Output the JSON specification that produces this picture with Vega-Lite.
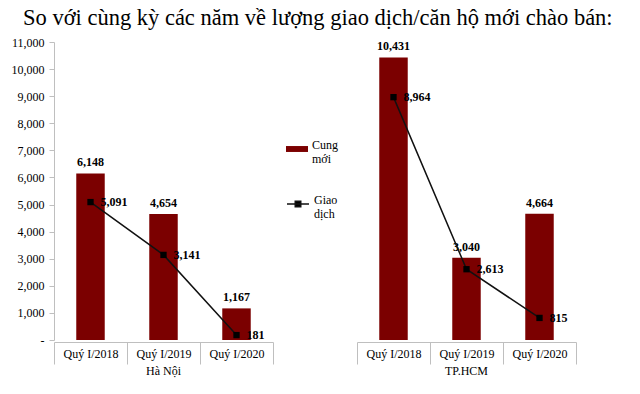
{
  "$schema": "https://vega.github.io/schema/vega-lite/v6.json",
  "padding": {"left": 11, "top": 6, "right": 5, "bottom": 5},
  "background": "white",
  "title": {
    "text": "So với cùng kỳ các năm về lượng giao dịch/căn hộ mới chào bán:",
    "anchor": "start",
    "frame": "bounds",
    "font": "Liberation Serif",
    "fontSize": 22.5,
    "fontWeight": "normal",
    "color": "#000000",
    "dx": 12,
    "offset": 7
  },
  "data": {
    "values": [
      {"city": "Hà Nội", "quarter": "Quý I/2018", "cung": 6148, "gd": 5091},
      {"city": "Hà Nội", "quarter": "Quý I/2019", "cung": 4654, "gd": 3141},
      {"city": "Hà Nội", "quarter": "Quý I/2020", "cung": 1167, "gd": 181},
      {"city": "TP.HCM", "quarter": "Quý I/2018", "cung": 10431, "gd": 8964},
      {"city": "TP.HCM", "quarter": "Quý I/2019", "cung": 3040, "gd": 2613},
      {"city": "TP.HCM", "quarter": "Quý I/2020", "cung": 4664, "gd": 815}
    ]
  },
  "facet": {
    "column": {
      "field": "city",
      "sort": ["Hà Nội", "TP.HCM"],
      "header": {
        "title": null,
        "labelOrient": "bottom",
        "labelFont": "Liberation Serif",
        "labelFontSize": 12,
        "labelColor": "#000000",
        "labelPadding": 1
      }
    }
  },
  "spacing": 84,
  "spec": {
    "width": 219,
    "height": 298,
    "encoding": {
      "x": {
        "field": "quarter",
        "type": "nominal",
        "sort": ["Quý I/2018", "Quý I/2019", "Quý I/2020"],
        "scale": {"paddingInner": 0, "paddingOuter": 0},
        "axis": {
          "title": null,
          "labelAngle": 0,
          "labelFont": "Liberation Serif",
          "labelFontSize": 12,
          "labelColor": "#000000",
          "labelPadding": -16,
          "domainColor": "#bfbfbf",
          "tickColor": "#bfbfbf",
          "tickBand": "extent",
          "tickSize": 22
        }
      }
    },
    "layer": [
      {
        "mark": {"type": "bar", "width": {"band": 0.39}},
        "encoding": {
          "y": {
            "field": "cung",
            "type": "quantitative",
            "scale": {"domain": [0, 11000]},
            "axis": {
              "title": null,
              "values": [0, 1000, 2000, 3000, 4000, 5000, 6000, 7000, 8000, 9000, 10000, 11000],
              "labelExpr": "datum.value === 0 ? '-' : format(datum.value, ',')",
              "labelFont": "Liberation Serif",
              "labelFontSize": 12,
              "labelColor": "#000000",
              "labelPadding": 5,
              "grid": false,
              "domainColor": "#bfbfbf",
              "tickColor": "#bfbfbf",
              "tickSize": 5
            }
          },
          "fill": {
            "datum": "Cung mới",
            "scale": {"range": ["#7b0000"]},
            "legend": {
              "title": null,
              "orient": "none",
              "legendX": 232,
              "legendY": 96,
              "symbolType": "M-1,-0.27H1V0.27H-1Z",
              "symbolSize": 484,
              "symbolStrokeWidth": 0,
              "labelFont": "Liberation Serif",
              "labelFontSize": 12,
              "labelColor": "#000000",
              "labelBaseline": "alphabetic",
              "labelExpr": "['Cung', 'mới']"
            }
          }
        }
      },
      {
        "mark": {"type": "text", "dy": -11, "font": "Liberation Serif", "fontSize": 12, "fontWeight": "bold", "color": "#000000"},
        "encoding": {
          "y": {
            "field": "cung",
            "type": "quantitative",
            "axis": {
              "title": null,
              "values": [0, 1000, 2000, 3000, 4000, 5000, 6000, 7000, 8000, 9000, 10000, 11000],
              "labelExpr": "datum.value === 0 ? '-' : format(datum.value, ',')",
              "labelFont": "Liberation Serif",
              "labelFontSize": 12,
              "labelColor": "#000000",
              "labelPadding": 5,
              "grid": false,
              "domainColor": "#bfbfbf",
              "tickColor": "#bfbfbf",
              "tickSize": 5
            }
          },
          "text": {"field": "cung", "type": "quantitative", "format": ","}
        }
      },
      {
        "mark": {"type": "line", "strokeWidth": 1.5},
        "encoding": {
          "y": {
            "field": "gd",
            "type": "quantitative",
            "axis": {
              "title": null,
              "values": [0, 1000, 2000, 3000, 4000, 5000, 6000, 7000, 8000, 9000, 10000, 11000],
              "labelExpr": "datum.value === 0 ? '-' : format(datum.value, ',')",
              "labelFont": "Liberation Serif",
              "labelFontSize": 12,
              "labelColor": "#000000",
              "labelPadding": 5,
              "grid": false,
              "domainColor": "#bfbfbf",
              "tickColor": "#bfbfbf",
              "tickSize": 5
            }
          },
          "stroke": {
            "datum": "Giao dịch",
            "scale": {"range": ["#111111"]},
            "legend": {
              "title": null,
              "orient": "none",
              "legendX": 232,
              "legendY": 150,
              "symbolType": "M-1,0H1M-0.25,-0.25H0.25V0.25H-0.25Z",
              "symbolSize": 484,
              "symbolStrokeWidth": 1.5,
              "symbolFillColor": "#000000",
              "labelFont": "Liberation Serif",
              "labelFontSize": 12,
              "labelColor": "#000000",
              "labelBaseline": "alphabetic",
              "labelExpr": "['Giao', 'dịch']"
            }
          }
        }
      },
      {
        "mark": {"type": "point", "shape": "square", "filled": true, "color": "#000000", "size": 40, "opacity": 1},
        "encoding": {
          "y": {
            "field": "gd",
            "type": "quantitative",
            "axis": {
              "title": null,
              "values": [0, 1000, 2000, 3000, 4000, 5000, 6000, 7000, 8000, 9000, 10000, 11000],
              "labelExpr": "datum.value === 0 ? '-' : format(datum.value, ',')",
              "labelFont": "Liberation Serif",
              "labelFontSize": 12,
              "labelColor": "#000000",
              "labelPadding": 5,
              "grid": false,
              "domainColor": "#bfbfbf",
              "tickColor": "#bfbfbf",
              "tickSize": 5
            }
          }
        }
      },
      {
        "mark": {"type": "text", "align": "left", "baseline": "middle", "dx": 10, "font": "Liberation Serif", "fontSize": 12, "fontWeight": "bold", "color": "#000000"},
        "encoding": {
          "y": {
            "field": "gd",
            "type": "quantitative",
            "axis": {
              "title": null,
              "values": [0, 1000, 2000, 3000, 4000, 5000, 6000, 7000, 8000, 9000, 10000, 11000],
              "labelExpr": "datum.value === 0 ? '-' : format(datum.value, ',')",
              "labelFont": "Liberation Serif",
              "labelFontSize": 12,
              "labelColor": "#000000",
              "labelPadding": 5,
              "grid": false,
              "domainColor": "#bfbfbf",
              "tickColor": "#bfbfbf",
              "tickSize": 5
            }
          },
          "text": {"field": "gd", "type": "quantitative", "format": ","}
        }
      }
    ]
  },
  "config": {
    "view": {"stroke": null},
    "font": "Liberation Serif"
  }
}
